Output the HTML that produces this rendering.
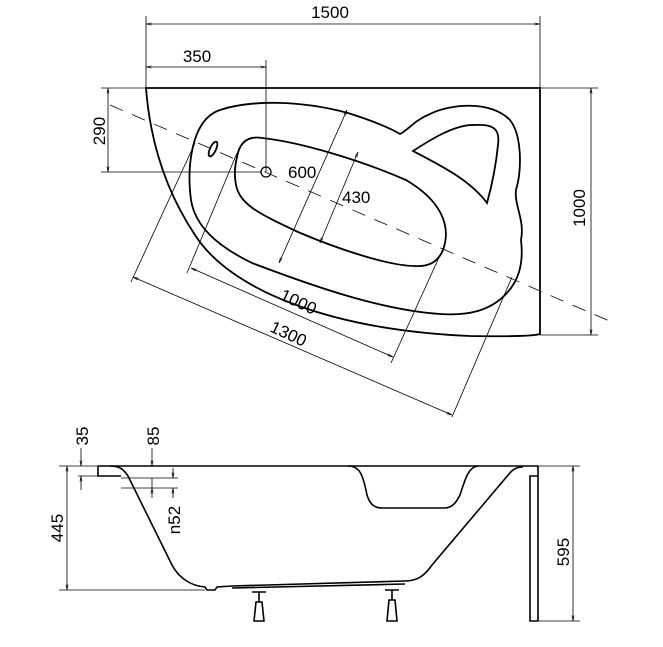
<!DOCTYPE html>
<html><head><meta charset="utf-8"><style>html,body{margin:0;padding:0;background:#fff}svg{display:block}text{font-family:"Liberation Sans",Arial,sans-serif;font-size:17px;fill:#000}</style></head><body>
<svg width="663" height="647" viewBox="0 0 663 647" xmlns="http://www.w3.org/2000/svg">
<defs><marker id="a" viewBox="0 0 10 10" refX="10" refY="5" markerWidth="7" markerHeight="7" orient="auto-start-reverse"><path d="M0,3 L10,5 L0,7" fill="none" stroke="#000" stroke-width="1"/></marker></defs>
<g fill="none" stroke="#000" stroke-width="0.8">
<line x1="146" y1="16" x2="146" y2="88"/><line x1="540" y1="16" x2="540" y2="88"/>
<line x1="146" y1="24" x2="540" y2="24" marker-start="url(#a)" marker-end="url(#a)"/>
<line x1="146" y1="67" x2="266" y2="67" marker-start="url(#a)" marker-end="url(#a)"/>
<line x1="266" y1="60" x2="266" y2="172"/>
<line x1="101" y1="88" x2="146" y2="88"/><line x1="101" y1="172" x2="262" y2="172"/>
<line x1="108" y1="88" x2="108" y2="172" marker-start="url(#a)" marker-end="url(#a)"/>
<line x1="540" y1="88" x2="598" y2="88"/><line x1="540" y1="335" x2="598" y2="335"/>
<line x1="591" y1="88" x2="591" y2="335" marker-start="url(#a)" marker-end="url(#a)"/>
<line x1="110" y1="105" x2="614" y2="323" stroke-dasharray="14,10"/>
<line x1="347" y1="110" x2="279" y2="263" marker-start="url(#a)" marker-end="url(#a)"/>
<line x1="358" y1="152" x2="320" y2="243" marker-start="url(#a)" marker-end="url(#a)"/>
<line x1="187" y1="273" x2="237" y2="153"/><line x1="391" y1="363" x2="441" y2="253"/>
<line x1="191" y1="268" x2="393" y2="357" marker-start="url(#a)" marker-end="url(#a)"/>
<line x1="131" y1="282" x2="195" y2="143"/><line x1="452" y1="417" x2="512" y2="277"/>
<line x1="133" y1="277" x2="452" y2="415" marker-start="url(#a)" marker-end="url(#a)"/>
</g>
<g fill="none" stroke="#000" stroke-width="1.8">
<path d="M146,88 L540,88 L540,334 Q530,337 470,336 C330,330 230,290 195,235 C165,190 150,140 146,88 Z"/>
<path d="M191,157 C195,130 205,115 220,110 C250,100 300,100 348,113 C370,120 390,128 400,134 C408,130 415,120 430,114 C450,104 490,100 510,120 C522,135 522,170 516,190 C514,205 525,220 521,240 C524,265 518,282 505,295 C490,310 470,316 440,314 C380,310 310,285 252,263 C215,245 195,225 191,200 C189,185 189,170 191,157 Z"/>
<path d="M237,157 C240,140 250,136 262,138 C300,142 360,160 406,180 C440,200 452,225 443,250 C438,262 428,267 415,266 C390,266 340,250 298,232 C260,214 240,205 236,185 C234,175 235,165 237,157 Z"/>
<path d="M413,151 C430,140 455,124 475,125 C495,124 500,130 498,145 C496,165 492,185 487,203 C470,180 440,165 413,151 Z"/>
<ellipse cx="213" cy="149" rx="3" ry="8" transform="rotate(25 213 149)"/>
<circle cx="266" cy="172" r="5" stroke-width="1.3"/>
</g>
<text x="330" y="18" text-anchor="middle">1500</text>
<text x="197" y="62" text-anchor="middle">350</text>
<text x="288" y="178">600</text>
<text x="342" y="203">430</text>
<text transform="translate(105,131) rotate(-90)" text-anchor="middle">290</text>
<text transform="translate(585,208) rotate(-90)" text-anchor="middle">1000</text>
<text transform="translate(296,307) rotate(25)" text-anchor="middle">1000</text>
<text transform="translate(286,339) rotate(25)" text-anchor="middle">1300</text>
<g fill="none" stroke="#000" stroke-width="0.8">
<line x1="59" y1="466" x2="98" y2="466"/><line x1="59" y1="590" x2="205" y2="590"/>
<line x1="67" y1="466" x2="67" y2="590" marker-start="url(#a)" marker-end="url(#a)"/>
<line x1="538" y1="466" x2="580" y2="466"/><line x1="539" y1="621" x2="580" y2="621"/>
<line x1="573" y1="466" x2="573" y2="621" marker-start="url(#a)" marker-end="url(#a)"/>
<line x1="81" y1="448" x2="81" y2="466" marker-end="url(#a)"/><line x1="81" y1="490" x2="81" y2="476" marker-end="url(#a)"/>
<line x1="78" y1="476" x2="98" y2="476"/>
<line x1="152" y1="448" x2="152" y2="466" marker-end="url(#a)"/><line x1="152" y1="498" x2="152" y2="488" marker-end="url(#a)"/>
<line x1="121" y1="478" x2="178" y2="478"/><line x1="121" y1="488" x2="178" y2="488"/>
<line x1="152" y1="478" x2="152" y2="488"/>
<line x1="173" y1="468" x2="173" y2="478" marker-end="url(#a)"/><line x1="173" y1="498" x2="173" y2="488" marker-end="url(#a)"/>
</g>
<g fill="none" stroke="#000" stroke-width="1.6">
<line x1="98" y1="466" x2="538" y2="466"/>
<path d="M98,466 L98,476 L121,476"/>
<path d="M110,466 C118,466 123,468 128,476 L172,565 C180,580 193,586 205,587 L207,590 L215,590 L217,587 L232,586 L405,581 C418,581 425,575 432,565 L509,474 C513,469 517,467 523,467"/>
<path d="M348,466 C360,466 363,475 367,495 C370,505 375,508 382,508 L444,508 C452,508 456,503 460,495 C465,480 468,467 478,466"/>
<path d="M538,466 L538,476 L530,476 L530,621 L538,621 L538,476"/>
<path d="M232,588 L405,584"/>
<path d="M252,592 L266,592 M259,592 L259,602 M254,621 L256,602 L262,602 L264,621 Z"/>
<path d="M385,590 L399,590 M392,590 L392,600 M387,621 L389,600 L395,600 L397,621 Z"/>
</g>
<text transform="translate(88,436) rotate(-90)" text-anchor="middle">35</text>
<text transform="translate(159,436) rotate(-90)" text-anchor="middle">85</text>
<text transform="translate(180,520) rotate(-90)" text-anchor="middle">n52</text>
<text transform="translate(63,528) rotate(-90)" text-anchor="middle">445</text>
<text transform="translate(569,552) rotate(-90)" text-anchor="middle">595</text>
</svg>
</body></html>
